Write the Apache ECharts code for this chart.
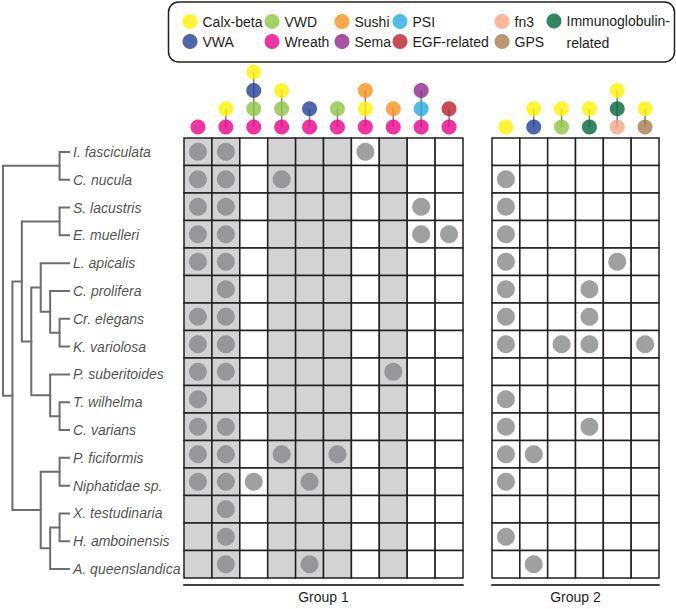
<!DOCTYPE html>
<html><head><meta charset="utf-8">
<script src="https://cdn.jsdelivr.net/npm/echarts@6/dist/echarts.min.js"></script>
<style>html,body{margin:0;padding:0;background:#fff}#c{width:676px;height:609px}</style>
</head><body><div id="c"></div>
<script>
// ---------------- DATA ----------------
const species = ['I. fasciculata','C. nucula','S. lacustris','E. muelleri','L. apicalis','C. prolifera','Cr. elegans','K. variolosa','P. suberitoides','T. wilhelma','C. varians','P. ficiformis','Niphatidae sp.','X. testudinaria','H. amboinensis','A. queenslandica'];
// tree topology, leaves are indices into species
const tree = [[0,1],[[[2,3],[[4,[5,[6,7]]],[8,[9,10]]]],[[11,12],[[13,14],15]]]];

const domainNames  = ['Calx-beta','VWA','VWD','Wreath','Sushi','Sema','PSI','EGF-related','fn3','GPS','Immunoglobulin-related'];
const domainColors = ['#fff200','#21409a','#8dc63f','#ec008c','#f7941d','#92278f','#27aae1','#be1e2d','#f7a482','#a97c50','#006838'];

// domain architectures (bottom to top) per column
const group1Architectures = [
  ['Wreath'],
  ['Wreath','Calx-beta'],
  ['Wreath','VWD','VWA','Calx-beta'],
  ['Wreath','VWD','Calx-beta'],
  ['Wreath','VWA'],
  ['Wreath','VWD'],
  ['Wreath','Calx-beta','Sushi'],
  ['Wreath','Sushi'],
  ['Wreath','PSI','Sema'],
  ['Wreath','EGF-related']
];
const group1Shaded = [1,1,0,1,1,1,0,1,0,0];
// present columns per species row
const group1Presence = [[0,1,6],[0,1,3],[0,1,8],[0,1,8,9],[0,1],[1],[0,1],[0,1],[0,1,7],[0],[0,1],[0,1,3,5],[0,1,2,4],[1],[1],[1,4]];

const group2Architectures = [
  ['Calx-beta'],
  ['VWA','Calx-beta'],
  ['VWD','Calx-beta'],
  ['Immunoglobulin-related','Calx-beta'],
  ['fn3','Immunoglobulin-related','Calx-beta'],
  ['GPS','Calx-beta']
];
const group2Shaded = [0,0,0,0,0,0];
const group2Presence = [[],[0],[0],[0],[0,4],[0,3],[0,3],[0,2,3,5],[],[0],[0,3],[0,1],[0],[],[0],[1]];

const groupNames = ['Group 1','Group 2'];
const legendColumns = [['Calx-beta','VWA'],['VWD','Wreath'],['Sushi','Sema'],['PSI','EGF-related'],['fn3','GPS'],['Immunoglobulin-related']];

// ---------------- LAYOUT ----------------
const FONT = "'Liberation Sans', Arial, Helvetica, sans-serif";
const TXT = '#231f20';
const TOP = 138, H = 445;
const ICON_BASE = 127, ICON_STEP = 18.3;
const groupBoxes = [{left:184, width:279},{left:492, width:167}];
const legendLefts = [177.5, 259.5, 329.5, 387.5, 489.5, 541.5];

const colorOf = {};
domainNames.forEach((d,i)=>colorOf[d]=domainColors[i]);

// tree layout
const LEAF = 7;
const treeSegments = [];
function layoutTree(node){
  if (typeof node === 'number') return {x: LEAF, y: node + 0.5, h: 0};
  const kids = node.map(layoutTree);
  const h = Math.max(...kids.map(k=>k.h)) + 1;
  const x = LEAF - h;
  const a = kids[0], b = kids[kids.length-1];
  treeSegments.push([[a.x, a.y],[x, a.y],[x, b.y],[b.x, b.y]]);
  return {x, y: (a.y + b.y)/2, h};
}
layoutTree(tree);

const grids = [{left:3, width:66, top:TOP, height:H}];
const xAxes = [{type:'value', gridIndex:0, min:0, max:LEAF, show:false}];
const yAxes = [{type:'value', gridIndex:0, min:0, max:species.length, inverse:true, show:false}];
const series = [
  {type:'lines', coordinateSystem:'cartesian2d', xAxisIndex:0, yAxisIndex:0, polyline:true, silent:true,
   data: treeSegments.map(c=>({coords:c})),
   lineStyle:{color:'#6d6e71', width:2, opacity:1, cap:'square'}},
  {type:'scatter', xAxisIndex:0, yAxisIndex:0, silent:true, symbolSize:1, itemStyle:{color:'rgba(0,0,0,0)'},
   data: species.map((s,i)=>[LEAF, i+0.5, s]),
   label:{show:true, position:'right', distance:3.5, formatter:p=>p.value[2], fontStyle:'italic', fontSize:14, color:TXT, fontFamily:FONT}}
];

const groups = [
  {arch:group1Architectures, shaded:group1Shaded, presence:group1Presence},
  {arch:group2Architectures, shaded:group2Shaded, presence:group2Presence}
];

groups.forEach((g, gi) => {
  const box = groupBoxes[gi];
  const cols = g.arch.map((_,j)=>String(j));
  const heatGrid = grids.length;
  grids.push({left:box.left, width:box.width, top:TOP, height:H});
  xAxes.push({type:'category', gridIndex:heatGrid, data:cols, position:'bottom', offset:7,
    axisLine:{show:true, onZero:false, lineStyle:{color:'#414042', width:2}},
    axisTick:{show:false}, axisLabel:{show:false}, splitLine:{show:false},
    name:groupNames[gi], nameLocation:'middle', nameGap:5,
    nameTextStyle:{fontSize:14, color:TXT, fontFamily:FONT, verticalAlign:'top'}});
  yAxes.push({type:'category', gridIndex:heatGrid, data:species, inverse:true, show:false});
  const hx = xAxes.length-1, hy = yAxes.length-1;

  const cells = [];
  species.forEach((_,r)=>cols.forEach((_,c)=>cells.push([c, r, g.shaded[c]])));
  series.push({type:'custom', xAxisIndex:hx, yAxisIndex:hy, silent:true, z:1, data:cells,
    renderItem:(params, api)=>{
      const p = api.coord([api.value(0), api.value(1)]);
      const s = api.size([1,1]);
      return {type:'rect', shape:{x:p[0]-s[0]/2, y:p[1]-s[1]/2, width:s[0], height:s[1]},
        style:{fill: api.value(2) ? '#d1d3d4' : '#ffffff', stroke:'#231f20', lineWidth:1.5}};
    }});
  const dots = [];
  g.presence.forEach((cs, r)=>cs.forEach(c=>dots.push([c, r])));
  series.push({type:'scatter', xAxisIndex:hx, yAxisIndex:hy, silent:true, z:3, symbolSize:18,
    itemStyle:{color:'#87888b'}, data:dots});

  // icons
  const iconGrid = grids.length;
  grids.push({left:box.left, width:box.width, top:ICON_BASE-4*ICON_STEP, height:4*ICON_STEP});
  xAxes.push({type:'category', gridIndex:iconGrid, data:cols, show:false});
  yAxes.push({type:'value', gridIndex:iconGrid, min:0, max:4, show:false});
  const ix = xAxes.length-1, iy = yAxes.length-1;
  series.push({type:'custom', xAxisIndex:ix, yAxisIndex:iy, silent:true, z:2,
    data: g.arch.map((a,j)=>[j, a.length-1]),
    renderItem:(params, api)=>{
      const p0 = api.coord([api.value(0), 0]);
      const p1 = api.coord([api.value(0), api.value(1)]);
      return {type:'line', shape:{x1:p0[0], y1:p0[1], x2:p1[0], y2:p1[1]},
        style:{stroke:'#7f8083', lineWidth:1.5}};
    }});
  domainNames.forEach(d=>{
    const pts = [];
    g.arch.forEach((a,j)=>a.forEach((dn,k)=>{ if (dn===d) pts.push([j,k]); }));
    if (!pts.length) return;
    series.push({type:'scatter', name:d, xAxisIndex:ix, yAxisIndex:iy, silent:true, z:3,
      symbolSize:15, itemStyle:{color:colorOf[d]}, data:pts});
  });
});

const legends = legendColumns.map((names, i)=>{
  const multi = names.length === 1;
  return {
    orient:'vertical', left:legendLefts[i], top: multi ? -17 : 9,
    itemWidth:15, itemHeight:15, itemGap:5, icon:'circle', selectedMode:false,
    data:names,
    formatter: n => n === 'Immunoglobulin-related' ? ' \nImmunoglobulin-\nrelated' : n,
    textStyle: multi ? {fontSize:14, color:TXT, fontFamily:FONT, lineHeight:22}
                     : {fontSize:14, color:TXT, fontFamily:FONT}
  };
});

const chart = echarts.init(document.getElementById('c'), null, {renderer:'svg'});
chart.setOption({
  animation:false,
  backgroundColor:'#ffffff',
  textStyle:{fontFamily:FONT},
  grid:grids, xAxis:xAxes, yAxis:yAxes, series:series, legend:legends,
  graphic:[{type:'rect', silent:true, shape:{x:168.5, y:2, width:506, height:60, r:10},
    style:{fill:'none', stroke:'#231f20', lineWidth:1.5}}]
});
</script></body></html>
